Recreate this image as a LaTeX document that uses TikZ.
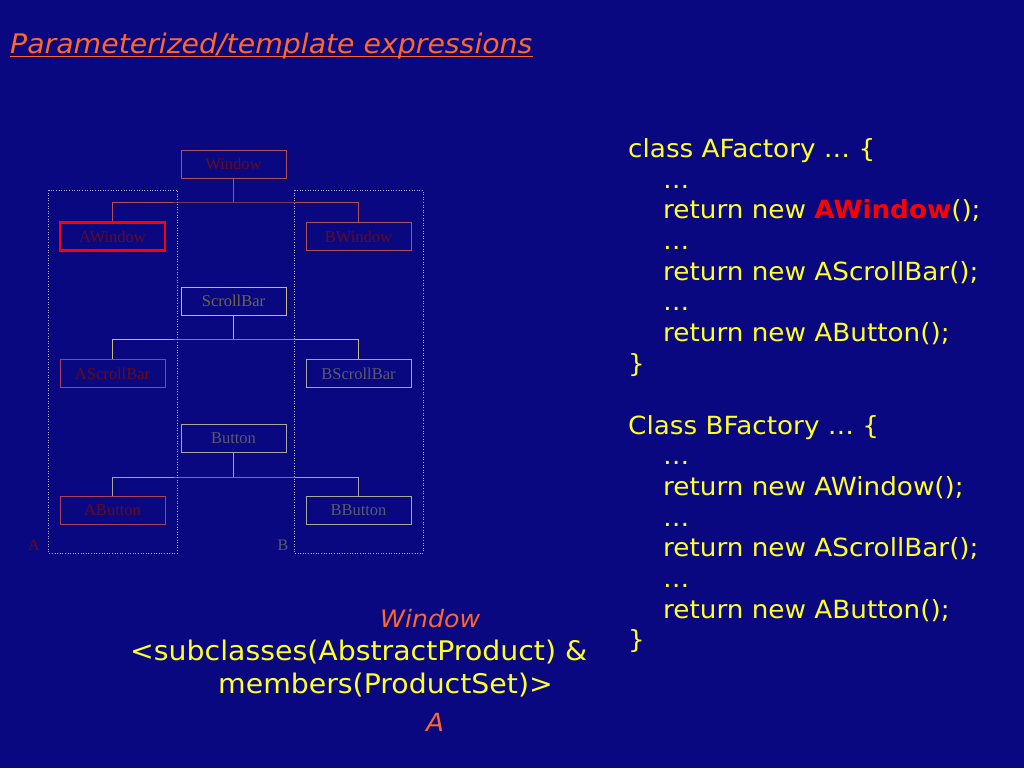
\documentclass[tikz,border=0pt]{standalone}
\usepackage{fontspec}
\setmainfont{DejaVu Sans}[FakeStretch=1.05]
\newfontfamily\boxfont{Liberation Serif}
\definecolor{bg}{RGB}{10,8,128}
\definecolor{codey}{RGB}{255,255,40}
\definecolor{titleor}{RGB}{255,102,40}
\definecolor{rosy}{RGB}{176,80,80}
\definecolor{tan}{RGB}{200,188,130}
\definecolor{grayb}{RGB}{168,168,160}
\definecolor{purpr}{RGB}{168,64,96}
\definecolor{txtred}{RGB}{100,10,30}
\definecolor{txtolive}{RGB}{110,100,70}
\definecolor{txtgray}{RGB}{90,90,110}
\definecolor{dotc}{RGB}{176,176,200}
\begin{document}
\begin{tikzpicture}[x=1pt,y=-1pt,
  cls/.style={draw, line width=0.9pt, minimum width=105pt, minimum height=28pt, inner sep=0pt,
     font=\boxfont\fontsize{16.5}{18}\selectfont},
  code/.style={anchor=base west, inner sep=0pt, text=codey, font=\fontsize{25}{29}\selectfont},
  expr/.style={anchor=base west, inner sep=0pt, text=codey, font=\fontsize{27}{31}\selectfont},
  conn/.style={line width=0.9pt},
  region/.style={draw=dotc, dotted, line width=0.6pt},
  lbl/.style={inner sep=0pt, font=\boxfont\fontsize{16}{18}\selectfont}
]
\fill[bg] (0,0) rectangle (1024,768);
\useasboundingbox (0,0) rectangle (1024,768);

% title
\node[anchor=base west, inner sep=0pt, text=titleor, font=\fontsize{27}{31}\selectfont\itshape] (title) at (10,53) {Parameterized/template expressions};
\draw[titleor, line width=1.2pt] ([yshift=-3.5pt]title.base west) -- ([yshift=-3.5pt]title.base east);

% dotted regions
\draw[region] (48.5,190) rectangle (177,553);
\draw[region] (294,190) rectangle (423,553);
\node[lbl, text=txtred, anchor=base] (lA) at (34,550) {A};
\node[lbl, text=txtgray, anchor=base] (lB) at (283,550) {B};

% Window family
\node[cls, draw=rosy, text=txtred] (win) at (233.5,164) {Window};
\node[cls, draw=red, line width=2.8pt, text=txtred] (awin) at (112.5,236.5) {AWindow};
\node[cls, draw=rosy, text=txtred] (bwin) at (358.5,236.5) {BWindow};
\coordinate (wj) at (233.5,202);
\draw[conn, rosy] (win.south) -- (wj);
\draw[conn, rosy] (awin.north) |- (wj) -| (bwin.north);

% ScrollBar family
\node[cls, draw=tan, text=txtolive] (sb) at (233.5,301) {ScrollBar};
\node[cls, draw=purpr, text=txtred] (asb) at (112.5,373.5) {AScrollBar};
\node[cls, draw=grayb, text=txtgray] (bsb) at (358.5,373.5) {BScrollBar};
\coordinate (sj) at (233.5,339);
\draw[conn, tan] (sb.south) -- (sj);
\draw[conn, tan] (asb.north) |- (sj) -| (bsb.north);

% Button family
\node[cls, draw=grayb, text=txtgray] (bt) at (233.5,438) {Button};
\node[cls, draw=purpr, text=txtred] (abt) at (112.5,510.5) {AButton};
\node[cls, draw=grayb, text=txtgray] (bbt) at (358.5,510.5) {BButton};
\coordinate (bj) at (233.5,477);
\draw[conn, grayb] (bt.south) -- (bj);
\draw[conn, grayb] (abt.north) |- (bj) -| (bbt.north);

% code
\node[code] (c1) at (628,157) {class AFactory … \{};
\node[code] (c2) at (663,188) {…};
\node[code] (c3) at (663,218) {return new \textcolor{red}{\bfseries AWindow}();};
\node[code] (c4) at (663,249) {…};
\node[code] (c5) at (663,280) {return new AScrollBar();};
\node[code] (c6) at (663,310) {…};
\node[code] (c7) at (663,341) {return new AButton();};
\node[code] (c8) at (628,372) {\}};

\node[code] (d1) at (628,434) {Class BFactory … \{};
\node[code] (d2) at (663,464) {…};
\node[code] (d3) at (663,495) {return new AWindow();};
\node[code] (d4) at (663,526) {…};
\node[code] (d5) at (663,556) {return new AScrollBar();};
\node[code] (d6) at (663,587) {…};
\node[code] (d7) at (663,618) {return new AButton();};
\node[code] (d8) at (628,648) {\}};

% bottom expression
\node[anchor=base west, inner sep=0pt, text=titleor, font=\fontsize{24}{29}\selectfont\itshape] (pw) at (380,627) {Window};
\node[expr] (e1) at (130,660) {<subclasses(AbstractProduct) \&};
\node[expr] (e2) at (218,693) {members(ProductSet)>};
\node[anchor=base west, inner sep=0pt, text=titleor, font=\fontsize{25}{29}\selectfont\itshape] (pa) at (426,731) {A};
\end{tikzpicture}
\end{document}
